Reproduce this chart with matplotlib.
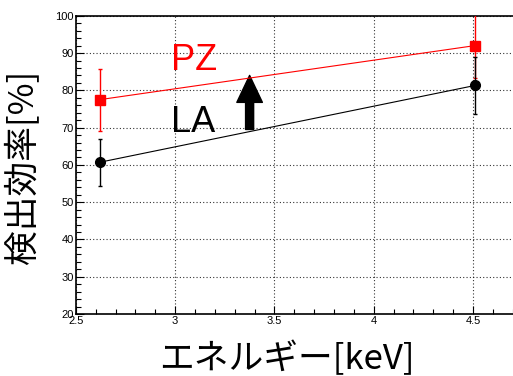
import numpy as np
import matplotlib
matplotlib.use('Agg')
import matplotlib.pyplot as plt
from matplotlib.ticker import MultipleLocator

# energies of the two sources [keV]
energy = [2.62, 4.51]

# detection efficiency [%] and errors
pz_eff = [77.5, 92.0]
pz_err = [8.3, 8.8]
la_eff = [60.7, 81.3]
la_err = [6.3, 7.7]

fig = plt.figure(figsize=(5.13, 3.76), dpi=100)
ax = fig.add_axes([0.148, 0.165, 0.86, 0.793])

ax.errorbar(energy, pz_eff, yerr=pz_err, color='red', marker='s', markersize=6.5,
            linewidth=0.8, elinewidth=1.0, capsize=1.5, zorder=3, clip_on=True)
ax.errorbar(energy, la_eff, yerr=la_err, color='black', marker='o', markersize=7,
            linewidth=0.8, elinewidth=1.0, capsize=1.5, zorder=4, clip_on=True)

ax.text(2.979, 85.4, 'PZ', color='red', fontsize=26, family='Liberation Sans')
ax.text(2.979, 68.7, 'LA', color='black', fontsize=26, family='Liberation Sans')

ax.annotate('', xy=(3.375, 84.0), xytext=(3.375, 69.5),
            arrowprops=dict(arrowstyle='simple,head_length=0.97,head_width=0.92,tail_width=0.29',
                            mutation_scale=20, color='black', shrinkA=0, shrinkB=0))

ax.set_xlim(2.5, 4.7226)
ax.set_ylim(20, 100)
ax.xaxis.set_major_locator(MultipleLocator(0.5))
ax.xaxis.set_minor_locator(MultipleLocator(0.1))
ax.yaxis.set_major_locator(MultipleLocator(10))
ax.yaxis.set_minor_locator(MultipleLocator(2))
ax.set_xticks([2.5, 3, 3.5, 4, 4.5])
ax.set_xticklabels(['2.5', '3', '3.5', '4', '4.5'])
ax.tick_params(which='both', direction='in', labelsize=8, pad=1.5)
ax.tick_params(which='major', length=6, width=0.8)
ax.tick_params(which='minor', length=3.5, width=0.8)
for lab in ax.get_xticklabels() + ax.get_yticklabels():
    lab.set_family('Liberation Sans')
ax.grid(True, which='major', linestyle=(0, (1, 2)), color='black', linewidth=0.8, alpha=0.8)
for s in ax.spines.values():
    s.set_linewidth(1.2)

fig.text(0.56, 0.043, 'エネルギー[keV]', fontsize=25, ha='center', va='center',
         family=['Noto Sans CJK JP', 'DejaVu Sans'])
fig.text(0.047, 0.555, '検出効率[%]', fontsize=25, ha='center', va='center', rotation=90,
         family=['Noto Sans CJK JP', 'DejaVu Sans'])

fig.savefig('out.png', dpi=100)
